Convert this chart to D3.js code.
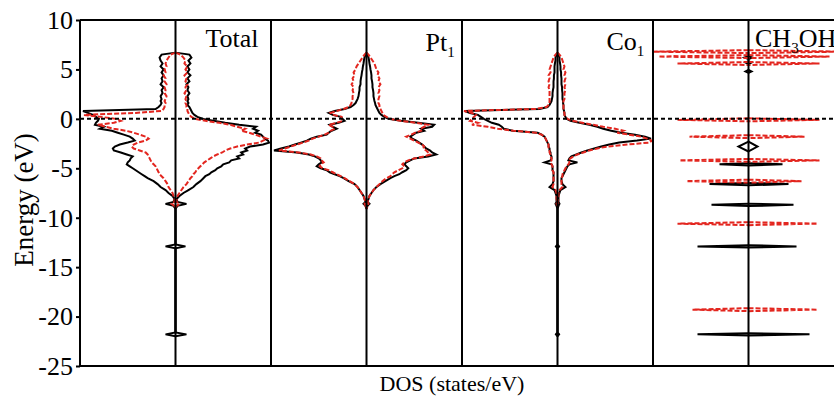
<!DOCTYPE html>
<html>
<head>
<meta charset="utf-8">
<script src="https://cdn.jsdelivr.net/npm/d3@7"></script>
<style>
body { margin: 0; background: #fff; }
svg { display: block; }
svg text { font-family: "Liberation Serif", "Times New Roman", serif; }
</style>
</head>
<body>
<div id="dos-chart"></div>
<script>
// energy grid (eV) shared by the Total / Pt1 / Co1 panels
const energies = [
  6.7, 6.5, 6.2, 5.9, 5.6, 5.3, 5.0, 4.7, 4.4, 4.1, 3.8, 3.5, 3.2, 2.9, 2.6, 2.3, 2.0,
  1.8, 1.6, 1.4, 1.2, 1.0, 0.8, 0.6, 0.4, 0.2, 0.0,
  -0.2, -0.4, -0.6, -0.8, -1.0, -1.2, -1.4, -1.6, -1.8, -2.0,
  -2.2, -2.4, -2.6, -2.8, -3.0, -3.2, -3.4, -3.6, -3.8, -4.0,
  -4.2, -4.4, -4.6, -4.8, -5.0, -5.2, -5.4, -5.6, -5.8, -6.0,
  -6.3, -6.6, -6.9, -7.2, -7.5, -7.8, -8.1, -8.4, -8.6, -8.8, -9.1,
  -12.7, -12.9, -13.1, -21.6, -21.8, -22.0
];

// Total DOS (states/eV), spin up drawn right, spin down drawn left
const totalUpBlack = [
  0, 7, 8, 6.5, 7.5, 6, 7, 6, 7.5, 6, 7, 5.5, 6.5, 6, 7, 6, 6.5,
  6, 6.5, 6, 7, 7.5, 8, 8.5, 9.5, 11, 14,
  19, 25, 32, 40.5, 39, 41.5, 40, 43, 44, 45,
  46.5, 47, 44, 37.5, 35, 36, 33, 34, 31, 32,
  28, 27, 24, 23, 21, 20, 18, 17, 15, 14,
  12.5, 10.5, 9, 6.5, 4, 2, 0.5, 1, 5.5, 1, 0,
  0, 5, 0, 0, 5.5, 0
];
const totalDownBlack = [
  0, 7, 8, 7.5, 6.5, 7.5, 6, 7, 6, 7, 6.5, 7.5, 6, 7, 6.5, 7.5, 7,
  7.5, 7, 7.5, 8.5, 10, 46.5, 44, 41.5, 40, 38.5,
  39, 40, 40.5, 36, 38, 32, 29, 26, 23, 21.5,
  20.5, 24, 28, 30.5, 31.5, 31, 27.5, 24.5, 21.5, 22.5,
  23, 24, 24.5, 23, 21.5, 20, 18.5, 17, 15.5, 14,
  11, 9, 7.5, 5, 3.5, 1.5, 0.5, 1, 5, 1, 0,
  0, 5, 0, 0, 5, 0
];
const totalUpRed = [
  0, 2.5, 4, 5, 4.5, 6, 5, 6, 4.5, 5.5, 5, 6, 5, 5.5, 4.5, 5.5, 5,
  5.5, 5, 5.5, 5.5, 6, 6, 6.5, 7, 8, 10,
  15, 22, 27.5, 31, 35, 33, 37, 40, 43, 46,
  44, 42, 36, 31, 27.5, 25, 23.5, 21, 19, 17.5,
  16, 14.5, 13.5, 12.5, 11.5, 10.5, 10, 9, 8.5, 7.5,
  6.5, 5.5, 4, 3, 2, 1, 0.5, 0.5, 2, 0.5, 0,
  0, 0, 0, 0, 0, 0
];
const totalDownRed = [
  0, 2.5, 3.5, 4.5, 5, 4.5, 5.5, 5, 6, 5, 5.5, 4.5, 5.5, 5, 5.5, 4.5, 5,
  5.5, 5, 5.5, 5.5, 6, 7, 20, 46, 37.5, 30,
  27.5, 31, 39, 35, 31, 25, 21, 18, 15, 13.5,
  15, 19, 21, 22, 21, 18, 15, 14, 13.5, 13,
  12.5, 12, 11, 10, 9.5, 9, 8.5, 8, 7, 6,
  5, 4, 3.5, 2.5, 1.5, 1, 0.5, 0.5, 2, 0.5, 0,
  0, 0, 0, 0, 0, 0
];

// Pt1 projected DOS
const ptUpBlack = [
  0, 0.05, 0.1, 0.13, 0.15, 0.18, 0.2, 0.23, 0.25, 0.25, 0.28, 0.3, 0.3, 0.33, 0.35, 0.35, 0.38,
  0.4, 0.43, 0.45, 0.5, 0.55, 0.6, 0.65, 0.75, 0.9, 1.1,
  1.75, 2.6, 3.4, 3.3, 2.75, 2.9, 2.5, 2.35, 2.2, 2.3,
  2.5, 2.65, 2.8, 2.9, 3.0, 3.2, 3.3, 3.5, 3.1, 2.4,
  2.2, 2.0, 1.9, 2.0, 2.1, 2.0, 1.8, 1.65, 1.4, 1.2,
  0.95, 0.7, 0.5, 0.35, 0.25, 0.15, 0.1, 0.05, 0.15, 0.05, 0,
  0, 0, 0, 0, 0, 0
];
const ptDownBlack = [
  0, 0.05, 0.1, 0.13, 0.15, 0.18, 0.2, 0.23, 0.25, 0.28, 0.3, 0.3, 0.35, 0.35, 0.38, 0.4, 0.45,
  0.5, 0.55, 0.65, 0.8, 1.1, 1.6, 1.9, 1.7, 1.3, 1.2,
  1.1, 1.4, 1.85, 1.7, 1.5, 1.75, 1.9, 2.0, 2.5, 2.8,
  3.0, 3.3, 3.6, 3.9, 4.3, 4.65, 3.5, 2.9, 2.6, 2.4,
  2.3, 2.25, 2.4, 2.5, 2.3, 2.0, 1.85, 1.6, 1.35, 1.15,
  0.9, 0.6, 0.45, 0.35, 0.25, 0.15, 0.1, 0.05, 0.15, 0.05, 0,
  0, 0, 0, 0, 0, 0
];
const ptUpRed = [
  0, 0.1, 0.2, 0.3, 0.4, 0.45, 0.5, 0.6, 0.55, 0.65, 0.6, 0.7, 0.6, 0.65, 0.6, 0.65, 0.6,
  0.6, 0.6, 0.65, 0.65, 0.7, 0.75, 0.8, 0.85, 1.0, 1.2,
  1.7, 2.5, 3.1, 2.9, 2.7, 2.75, 2.45, 2.25, 2.0, 2.2,
  2.4, 2.6, 2.8, 2.9, 2.85, 3.0, 3.1, 3.2, 2.9, 2.4,
  2.1, 1.9, 1.8, 1.9, 1.8, 1.6, 1.4, 1.3, 1.2, 1.0,
  0.8, 0.65, 0.5, 0.35, 0.25, 0.15, 0.1, 0.05, 0.1, 0.05, 0,
  0, 0, 0, 0, 0, 0
];
const ptDownRed = [
  0, 0.1, 0.2, 0.3, 0.4, 0.5, 0.55, 0.65, 0.6, 0.7, 0.65, 0.75, 0.65, 0.7, 0.65, 0.7, 0.7,
  0.75, 0.75, 0.8, 0.9, 1.15, 1.5, 1.8, 1.65, 1.25, 1.25,
  1.2, 1.5, 1.9, 1.7, 1.6, 1.8, 1.9, 2.1, 2.4, 2.7,
  2.9, 3.2, 3.5, 3.8, 4.1, 4.4, 3.4, 2.8, 2.5, 2.3,
  2.25, 2.15, 2.3, 2.35, 2.2, 1.9, 1.7, 1.5, 1.3, 1.1,
  0.85, 0.6, 0.45, 0.35, 0.25, 0.15, 0.1, 0.05, 0.1, 0.05, 0,
  0, 0, 0, 0, 0, 0
];

// Co1 projected DOS
const coUpBlack = [
  0, 0.05, 0.1, 0.1, 0.13, 0.15, 0.15, 0.18, 0.18, 0.2, 0.2, 0.2, 0.23, 0.23, 0.25, 0.25, 0.25,
  0.28, 0.28, 0.3, 0.3, 0.3, 0.33, 0.35, 0.35, 0.4, 0.45,
  0.65, 1.1, 1.6, 2.0, 2.3, 2.7, 3.2, 3.9, 4.4, 4.7,
  4.0, 3.1, 2.6, 2.2, 1.85, 1.5, 1.2, 0.95, 0.7, 0.6,
  0.55, 1.0, 0.6, 0.5, 0.45, 0.4, 0.35, 0.3, 0.25, 0.2,
  0.2, 0.25, 0.4, 0.15, 0.1, 0.05, 0.05, 0.05, 0.1, 0.05, 0,
  0, 0.08, 0, 0, 0.08, 0
];
const coDownBlack = [
  0, 0.05, 0.1, 0.1, 0.13, 0.15, 0.15, 0.15, 0.18, 0.18, 0.2, 0.2, 0.2, 0.23, 0.25, 0.25, 0.28,
  0.3, 0.35, 0.4, 0.5, 0.9, 4.65, 4.4, 4.0, 3.85, 3.7,
  3.5, 3.3, 2.95, 2.8, 2.7, 2.25, 1.0, 0.8, 0.65, 0.6,
  0.55, 0.5, 0.45, 0.45, 0.4, 0.4, 0.35, 0.35, 0.3, 0.3,
  0.35, 0.65, 0.3, 0.25, 0.25, 0.25, 0.2, 0.2, 0.2, 0.2,
  0.2, 0.25, 0.4, 0.15, 0.1, 0.05, 0.05, 0.05, 0.1, 0.05, 0,
  0, 0.08, 0, 0, 0.08, 0
];
const coUpRed = [
  0, 0.1, 0.2, 0.25, 0.3, 0.35, 0.3, 0.4, 0.35, 0.4, 0.35, 0.4, 0.35, 0.4, 0.35, 0.35, 0.35,
  0.3, 0.3, 0.3, 0.3, 0.3, 0.3, 0.35, 0.35, 0.4, 0.5,
  0.75, 1.25, 1.8, 2.3, 2.9, 3.3, 3.0, 3.6, 4.2, 4.5,
  4.75, 4.6, 3.5, 2.5, 2.0, 1.6, 1.3, 1.0, 0.8, 0.65,
  0.55, 0.6, 0.55, 0.45, 0.4, 0.35, 0.3, 0.25, 0.25, 0.2,
  0.2, 0.2, 0.25, 0.1, 0.05, 0.05, 0.05, 0, 0.05, 0, 0,
  0, 0, 0, 0, 0, 0
];
const coDownRed = [
  0, 0.1, 0.2, 0.25, 0.3, 0.35, 0.4, 0.35, 0.45, 0.4, 0.45, 0.4, 0.45, 0.4, 0.4, 0.4, 0.4,
  0.4, 0.4, 0.45, 0.55, 1.1, 4.7, 4.3, 4.1, 4.2, 4.3,
  4.4, 4.0, 4.3, 3.5, 3.0, 2.2, 1.1, 0.8, 0.65, 0.6,
  0.55, 0.5, 0.45, 0.45, 0.45, 0.4, 0.4, 0.35, 0.35, 0.3,
  0.3, 0.35, 0.3, 0.25, 0.25, 0.25, 0.2, 0.2, 0.2, 0.2,
  0.2, 0.2, 0.25, 0.1, 0.05, 0.05, 0.05, 0, 0.05, 0, 0,
  0, 0, 0, 0, 0, 0
];

// CH3OH molecular levels: energy (eV), peak height up / down, half width (eV)
const ch3ohBlackE    = [6.2, 5.7, 4.8, -2.8, -4.6, -6.6, -8.7, -12.9, -21.8];
const ch3ohBlackUp   = [0.4, 0.3, 0.3, 0.9, 3.4, 4.0, 4.5, 4.8, 6.1];
const ch3ohBlackDown = [0.4, 0.3, 0.3, 1.0, 2.9, 3.9, 3.7, 5.1, 5.1];
const ch3ohBlackW    = [0.15, 0.15, 0.15, 0.5, 0.12, 0.12, 0.12, 0.12, 0.12];
const ch3ohRedE      = [6.8, 6.3, 5.6, -0.1, -1.8, -4.2, -6.3, -10.6, -19.3];
const ch3ohRedUp     = [9.5, 8.1, 7.1, 7.1, 5.6, 7.1, 5.3, 6.9, 6.9];
const ch3ohRedDown   = [9.6, 9.0, 7.1, 7.1, 5.9, 6.9, 6.2, 7.1, 5.6];
const ch3ohRedW      = [0.15, 0.15, 0.15, 0.15, 0.15, 0.15, 0.15, 0.15, 0.15];

const yTicks = [10, 5, 0, -5, -10, -15, -20, -25];

const BLACK = '#000';
const RED = '#e3261f';
const SERIF = '"Liberation Serif", "Times New Roman", serif';

const margin = { top: 20, left: 80 };
const panelW = 191, plotH = 346;
const W = 834, H = 399;

// sharp molecular levels -> separate spikes (null breaks the line between them)
function levelsToTrace(es, hs, ws) {
  const pts = [];
  es.forEach((e, i) => {
    pts.push([e + ws[i], 0], [e, hs[i]], [e - ws[i], 0], null);
  });
  return pts;
}
// grid values -> trace, dropping the empty tail below the last state
function gridTrace(vals) {
  let last = vals.length - 1;
  while (last > 0 && vals[last] === 0) last--;
  return energies.slice(0, Math.min(last + 2, energies.length)).map((e, i) => [e, vals[i]]);
}

const panels = [
  { name: 'Total', sub: null, after: null, xmax: 48, lx: 125.5, ly: 47,
    traces: [
      { up: gridTrace(totalUpBlack), down: gridTrace(totalDownBlack), color: BLACK },
      { up: gridTrace(totalUpRed), down: gridTrace(totalDownRed), color: RED }
    ] },
  { name: 'Pt', sub: '1', after: null, xmax: 4.8, lx: 154.5, ly: 51,
    traces: [
      { up: gridTrace(ptUpBlack), down: gridTrace(ptDownBlack), color: BLACK },
      { up: gridTrace(ptUpRed), down: gridTrace(ptDownRed), color: RED }
    ] },
  { name: 'Co', sub: '1', after: null, xmax: 4.8, lx: 144.5, ly: 50,
    traces: [
      { up: gridTrace(coUpBlack), down: gridTrace(coDownBlack), color: BLACK },
      { up: gridTrace(coUpRed), down: gridTrace(coDownRed), color: RED }
    ] },
  { name: 'CH', sub: '3', after: 'OH', xmax: 9.55, lx: 102, ly: 47,
    traces: [
      { up: levelsToTrace(ch3ohBlackE, ch3ohBlackUp, ch3ohBlackW),
        down: levelsToTrace(ch3ohBlackE, ch3ohBlackDown, ch3ohBlackW), color: BLACK },
      { up: levelsToTrace(ch3ohRedE, ch3ohRedUp, ch3ohRedW),
        down: levelsToTrace(ch3ohRedE, ch3ohRedDown, ch3ohRedW), color: RED }
    ] }
];

const svg = d3.select('#dos-chart').append('svg')
  .attr('width', W)
  .attr('height', H);

const y = d3.scaleLinear()
  .domain([-25, 10])
  .range([margin.top + plotH, margin.top]);

panels.forEach((p, i) => {
  const left = margin.left + i * panelW;
  const x = d3.scaleLinear()
    .domain([-p.xmax, p.xmax])
    .range([left, left + panelW]);
  const g = svg.append('g').attr('class', 'panel');

  const line = d3.line()
    .defined(d => d !== null)
    .x(d => x(d[1]))
    .y(d => y(d[0]));

  p.traces.forEach(t => {
    const dash = t.color === RED ? '5,2' : null;
    g.append('path')
      .datum(t.up)
      .attr('d', line)
      .attr('fill', 'none')
      .attr('stroke', t.color)
      .attr('stroke-width', 2)
      .attr('stroke-dasharray', dash);
    g.append('path')
      .datum(t.down.map(d => d === null ? null : [d[0], -d[1]]))
      .attr('d', line)
      .attr('fill', 'none')
      .attr('stroke', t.color)
      .attr('stroke-width', 2)
      .attr('stroke-dasharray', dash);
  });

  // zero-DOS line
  g.append('line')
    .attr('x1', x(0)).attr('x2', x(0))
    .attr('y1', y(10)).attr('y2', y(-25))
    .attr('stroke', BLACK)
    .attr('stroke-width', 2);

  // panel label
  const lab = g.append('text')
    .attr('x', left + p.lx)
    .attr('y', p.ly)
    .attr('font-size', 26)
    .attr('font-family', SERIF)
    .attr('fill', BLACK);
  lab.append('tspan').text(p.name);
  if (p.sub) {
    lab.append('tspan').attr('font-size', 15).attr('dy', 6).text(p.sub);
  }
  if (p.after) {
    lab.append('tspan').attr('dy', -6).text(p.after);
  }
});

// Fermi level
svg.append('line')
  .attr('x1', margin.left).attr('x2', W)
  .attr('y1', y(0)).attr('y2', y(0))
  .attr('stroke', BLACK)
  .attr('stroke-width', 2)
  .attr('stroke-dasharray', '4,3');

// frame: top, bottom and panel separators
const frame = svg.append('g').attr('stroke', BLACK).attr('stroke-width', 2);
frame.append('line')
  .attr('x1', margin.left).attr('x2', margin.left + 4 * panelW)
  .attr('y1', y(10)).attr('y2', y(10));
frame.append('line')
  .attr('x1', margin.left).attr('x2', margin.left + 4 * panelW)
  .attr('y1', y(-25)).attr('y2', y(-25));
d3.range(5).forEach(i => {
  frame.append('line')
    .attr('x1', margin.left + i * panelW).attr('x2', margin.left + i * panelW)
    .attr('y1', y(10)).attr('y2', y(-25));
});

// y axis
const yAxis = svg.append('g')
  .attr('transform', `translate(${margin.left},0)`)
  .call(d3.axisLeft(y).tickValues(yTicks).tickSize(4).tickPadding(3)
    .tickFormat(d => String(d)));
yAxis.attr('font-family', SERIF);
yAxis.select('.domain').remove();
yAxis.selectAll('line').attr('stroke-width', 2);
yAxis.selectAll('text')
  .attr('font-size', 26)
  .attr('font-family', SERIF)
  .attr('fill', BLACK);

// axis titles
svg.append('text')
  .attr('transform', 'translate(33,200) rotate(-90)')
  .attr('text-anchor', 'middle')
  .attr('font-size', 27)
  .attr('font-family', SERIF)
  .text('Energy (eV)');

svg.append('text')
  .attr('x', 452)
  .attr('y', 391)
  .attr('text-anchor', 'middle')
  .attr('font-size', 22)
  .attr('font-family', SERIF)
  .text('DOS (states/eV)');
</script>
</body>
</html>
